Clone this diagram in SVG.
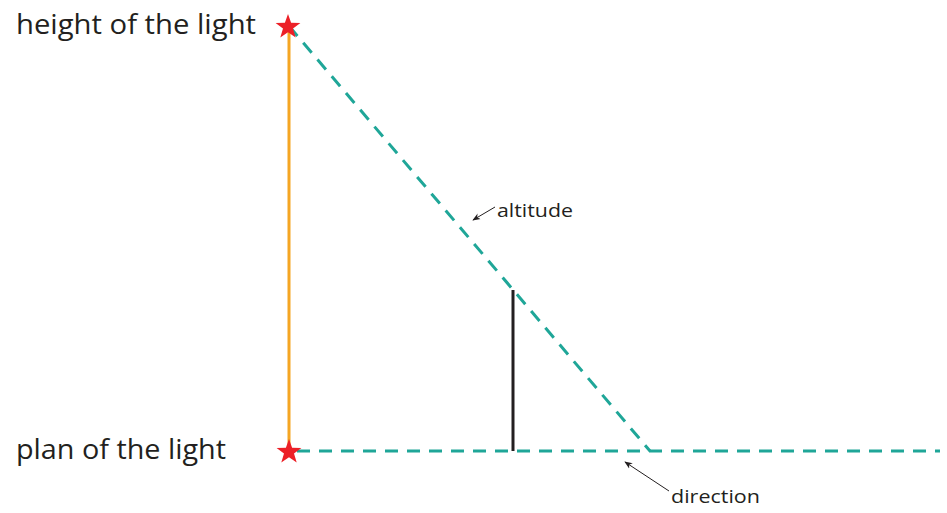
<svg xmlns="http://www.w3.org/2000/svg" width="947" height="513" viewBox="0 0 947 513">
<style>
.lbl{font-family:"Open Sans","Liberation Sans",sans-serif;fill:#231f20}
.big{font-size:28px}
.small{font-size:19px}
.dash{stroke:#1fa698;stroke-width:3;stroke-dasharray:13,9;fill:none}
.star{fill:#ec2027}
.thin{stroke:#231f20;stroke-width:1;fill:none}
</style>
<defs>
<marker id="ah" viewBox="0 0 10 10" refX="9" refY="5" markerWidth="8" markerHeight="8" orient="auto" markerUnits="userSpaceOnUse">
<path d="M0,1 L10,5 L0,9 L3,5 Z" fill="#231f20"/>
</marker>
<polygon id="st" points="0,-13 3.1,-4.2 12.4,-4 5,1.6 7.7,10.5 0,5.2 -7.7,10.5 -5,1.6 -12.4,-4 -3.1,-4.2"/>
</defs>
<g id="connectors">
<line x1="289" y1="26" x2="289" y2="451" stroke="#f5a623" stroke-width="3"/>
<line class="dash" x1="289" y1="26" x2="650" y2="451"/>
<line class="dash" x1="297" y1="451" x2="940" y2="451"/>
<line x1="513" y1="290" x2="513" y2="451" stroke="#231f20" stroke-width="3"/>
<line class="thin" x1="495" y1="207" x2="473" y2="220" marker-end="url(#ah)"/>
<line class="thin" x1="669" y1="491" x2="625" y2="462" marker-end="url(#ah)"/>
</g>
<g id="light-top"><use href="#st" class="star" x="288" y="27"/></g>
<g id="light-plan"><use href="#st" class="star" x="289" y="452"/></g>
<g id="label-height"><text class="lbl big" x="16" y="34" textLength="240" lengthAdjust="spacingAndGlyphs">height of the light</text></g>
<g id="label-plan"><text class="lbl big" x="16" y="459" textLength="210" lengthAdjust="spacingAndGlyphs">plan of the light</text></g>
<g id="label-altitude"><text class="lbl small" x="497" y="217" textLength="76" lengthAdjust="spacingAndGlyphs">altitude</text></g>
<g id="label-direction"><text class="lbl small" x="671" y="503" textLength="89" lengthAdjust="spacingAndGlyphs">direction</text></g>
</svg>
